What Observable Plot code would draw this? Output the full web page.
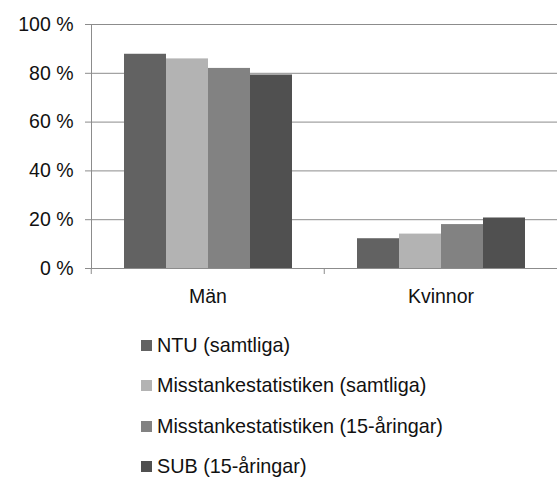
<!DOCTYPE html>
<html>
<head>
<meta charset="utf-8">
<script src="https://cdn.jsdelivr.net/npm/d3@7"></script>
<script src="https://cdn.jsdelivr.net/npm/@observablehq/plot@0.6"></script>
<style>
  body { margin: 0; background: #fff; font-family: "Liberation Sans", Arial, sans-serif; color: #111; }
  #legend { margin-top: 15px; padding-left: 141px; }
  .item { display: flex; align-items: center; height: 40.5px; font-size: 19.8px; }
  .sw { width: 11px; height: 11px; margin-right: 5px; flex: none; }
</style>
</head>
<body>
<div id="chart"></div>
<div id="legend"></div>
<script>
const categories = ["Män", "Kvinnor"];
const series = ["NTU (samtliga)", "Misstankestatistiken (samtliga)", "Misstankestatistiken (15-åringar)", "SUB (15-åringar)"];
const manValues = [87.8, 85.9, 82.0, 79.3];
const kvinnorValues = [12.2, 14.1, 18.0, 20.7];
const colors = ["#626262", "#b3b3b3", "#828282", "#505050"];
const yTicks = [0, 20, 40, 60, 80, 100];

const data = [];
series.forEach((s, i) => {
  data.push({category: categories[0], series: s, value: manValues[i]});
  data.push({category: categories[1], series: s, value: kvinnorValues[i]});
});

const W = 557, ML = 90, MR = 0;
const halfStep = (W - ML - MR) / categories.length / 2;
const grid = "#8c8c8c";

const chart = Plot.plot({
  width: W, height: 310,
  marginLeft: ML, marginRight: MR, marginTop: 24, marginBottom: 42,
  style: {fontFamily: "'Liberation Sans', Arial, sans-serif", fontSize: "19.5px", color: "#111", background: "#fff"},
  fx: {domain: categories, padding: 0, axis: null, label: null},
  x: {domain: series, paddingInner: 0, paddingOuter: 0.75, axis: null, label: null},
  y: {domain: [0, 100], axis: null, label: null},
  color: {domain: series, range: colors},
  marks: [
    Plot.ruleY(yTicks, {stroke: grid, strokeWidth: 1}),
    Plot.barY(data, {fx: "category", x: "series", y: "value", fill: "series"}),
    Plot.axisY(yTicks, {tickSize: 6, tickPadding: 12, tickFormat: d => d + " %", stroke: grid, fill: "#111", strokeOpacity: 1, label: null}),
    Plot.frame({anchor: "left", facetAnchor: "left", stroke: grid, strokeOpacity: 1}),
    Plot.axisFx({anchor: "bottom", tickSize: 0, tickPadding: 21, fill: "#111", label: null}),
    Plot.axisFx({anchor: "bottom", tickSize: 6, text: null, dx: -halfStep, stroke: grid, strokeOpacity: 1, label: null})
  ]
});
document.getElementById("chart").appendChild(chart);

const legend = document.getElementById("legend");
series.forEach((s, i) => {
  const item = document.createElement("div");
  item.className = "item";
  const sw = document.createElement("span");
  sw.className = "sw";
  sw.style.background = colors[i];
  const t = document.createElement("span");
  t.textContent = s;
  item.appendChild(sw);
  item.appendChild(t);
  legend.appendChild(item);
});
</script>
</body>
</html>
